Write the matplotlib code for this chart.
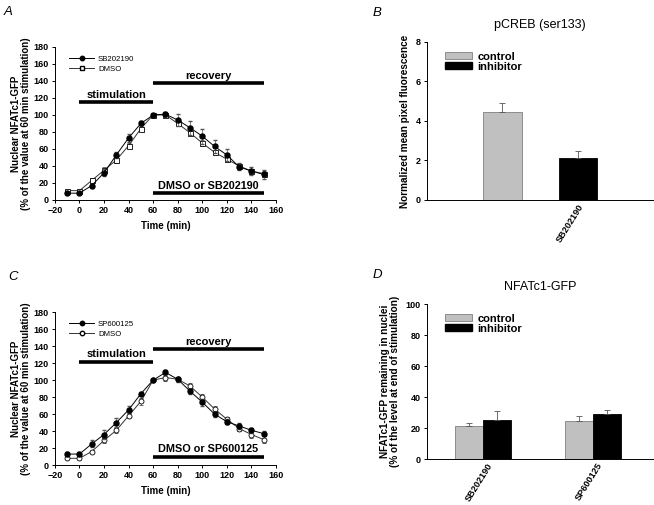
import matplotlib
matplotlib.use("Agg")
import matplotlib.pyplot as plt
from matplotlib.patches import Patch
from matplotlib.lines import Line2D

plt.rcParams['font.family'] = ['Liberation Sans', 'DejaVu Sans']

# time axis (min)
t = [-10, 0, 10, 20, 30, 40, 50, 60, 70, 80, 90, 100, 110, 120, 130, 140, 150]

# panel A
sb_mean = [8, 8, 17, 32, 53, 73, 90, 100, 101, 94, 85, 75, 63, 53, 39, 34, 30]
sb_err = [1, 1, 2, 4, 4, 5, 3, 0, 3, 7, 8, 9, 8, 7, 4, 5, 5]
dmso_a_mean = [11, 11, 23, 35, 47, 64, 84, 100, 100, 90, 79, 67, 56, 48, 40, 34, 31]
dmso_a_err = [1, 1, 3, 4, 3, 3, 2, 0, 2, 3, 3, 3, 2, 3, 3, 3, 3]

# panel C
sp_mean = [13, 13, 25, 36, 50, 65, 84, 100, 109, 101, 87, 74, 60, 51, 46, 41, 37]
sp_err = [2, 2, 4, 5, 5, 4, 2, 0, 3, 3, 3, 4, 3, 3, 3, 3, 3]
dmso_c_mean = [8, 8, 16, 29, 41, 58, 75, 100, 103, 101, 93, 80, 66, 54, 43, 36, 30]
dmso_c_err = [1, 1, 2, 3, 3, 3, 4, 0, 4, 3, 4, 4, 3, 3, 3, 4, 4]

# panel B
b_labels = ['SB202190']
b_control = [4.47]
b_control_err = [0.42]
b_inhib = [2.15]
b_inhib_err = [0.31]

# panel D
d_labels = ['SB202190', 'SP600125']
d_control = [21.2, 24.4]
d_control_err = [2.1, 3.2]
d_inhib = [25.0, 29.2]
d_inhib_err = [5.7, 2.5]

fig = plt.figure(figsize=(6.54, 5.05), dpi=100)

TICK = 6.5
LAB = 7.0


def style(ax):
    ax.spines['top'].set_visible(False)
    ax.spines['right'].set_visible(False)
    ax.spines['left'].set_linewidth(0.7)
    ax.spines['bottom'].set_linewidth(0.7)
    ax.tick_params(labelsize=TICK, width=0.7, length=2.5, pad=2)
    for lab in ax.get_xticklabels() + ax.get_yticklabels():
        lab.set_fontweight('bold')


def time_panel(rect, letter, letter_x, drug, open_marker, m1, e1, m2, e2, ystim, yrec, ydrug):
    ax = fig.add_axes(rect)
    ax.errorbar(t, m2, yerr=e2, color='#333333', lw=0.7, marker=open_marker, ms=3.6,
                mfc='white', mec='black', mew=0.6, capsize=1.5, elinewidth=0.5,
                ecolor='#555555', zorder=2)
    ax.errorbar(t, m1, yerr=e1, color='black', lw=0.7, marker='o', ms=3.6,
                mfc='black', mec='black', capsize=1.5, elinewidth=0.5,
                ecolor='#555555', zorder=3)
    ax.set_xlim(-20, 160)
    ax.set_ylim(0, 180)
    ax.set_xticks(range(-20, 161, 20))
    ax.set_yticks(range(0, 181, 20))
    ax.plot([0, 60], [ystim, ystim], color='black', lw=2.6, solid_capstyle='butt')
    ax.plot([60, 150], [yrec, yrec], color='black', lw=2.6, solid_capstyle='butt')
    ax.plot([60, 150], [ydrug, ydrug], color='black', lw=2.6, solid_capstyle='butt')
    ax.text(30, ystim + 3, 'stimulation', ha='center', va='bottom', fontsize=8, fontweight='bold')
    ax.text(105, yrec + 3, 'recovery', ha='center', va='bottom', fontsize=8, fontweight='bold')
    ax.text(105, ydrug + 3, 'DMSO or ' + drug, ha='center', va='bottom', fontsize=7.8,
            fontweight='bold')
    ax.set_xlabel('Time (min)', fontsize=LAB, fontweight='bold', labelpad=4)
    ax.set_ylabel('Nuclear NFATc1-GFP\n(% of the value at 60 min stimulation)',
                  fontsize=LAB, fontweight='bold', labelpad=2, linespacing=1.0)
    handles = [Line2D([], [], color='black', lw=0.7, marker='o', ms=3.2, mfc='black'),
               Line2D([], [], color='#333333', lw=0.7, marker=open_marker, ms=3.2,
                      mfc='white', mec='black')]
    ax.legend(handles, [drug, 'DMSO'], loc='upper left', bbox_to_anchor=(0.04, 0.98),
              frameon=False, fontsize=5.6, handlelength=3.2, handletextpad=0.5,
              labelspacing=0.3, borderaxespad=0.3)
    style(ax)
    fig.text(letter_x, rect[1] + rect[3] + 0.058, letter, fontsize=9.5,
             style='italic', ha='left', va='bottom')
    return ax


time_panel([0.084, 0.604, 0.338, 0.303], 'A', 0.005, 'SB202190', 's',
           sb_mean, sb_err, dmso_a_mean, dmso_a_err, 115, 137.5, 8)
time_panel([0.084, 0.079, 0.338, 0.303], 'C', 0.013, 'SP600125', 'o',
           sp_mean, sp_err, dmso_c_mean, dmso_c_err, 121.5, 136.5, 9.5)


def bar_panel(rect, letter, title, labels, ctrl, ctrl_e, inh, inh_e, ymax, ystep,
              xc, xi, width, xtick, ylabel):
    ax = fig.add_axes(rect)
    ax.bar(xc, ctrl, width, color='#c0c0c0', edgecolor='#808080', lw=0.6,
           yerr=[[0] * len(ctrl), ctrl_e], error_kw=dict(elinewidth=0.6, capsize=2,
                                                        ecolor='#555555', capthick=0.6))
    ax.bar(xi, inh, width, color='black', edgecolor='black', lw=0.6,
           yerr=[[0] * len(inh), inh_e], error_kw=dict(elinewidth=0.6, capsize=2,
                                                      ecolor='#555555', capthick=0.6))
    ax.set_xlim(0, 1)
    ax.set_ylim(0, ymax)
    ax.set_yticks([i * ystep for i in range(int(ymax / ystep) + 1)])
    ax.set_xticks(xtick)
    ax.set_xticklabels(labels, rotation=58, ha='right', rotation_mode='anchor')
    ax.set_ylabel(ylabel, fontsize=7.2, fontweight='bold', labelpad=4, linespacing=1.0)
    ax.set_title(title, fontsize=9, pad=10)
    handles = [Patch(facecolor='#c0c0c0', edgecolor='#808080', lw=0.6),
               Patch(facecolor='black', edgecolor='black')]
    ax.legend(handles, ['control', 'inhibitor'], loc='upper left',
              bbox_to_anchor=(0.05, 0.98), frameon=False,
              prop=dict(size=8, weight='bold'), handlelength=2.4, handleheight=0.6,
              handletextpad=0.5, labelspacing=0.0, borderaxespad=0.2)
    style(ax)
    ax.tick_params(axis='x', length=0, pad=1.5, labelsize=6.6)
    fig.text(rect[0] - 0.083, rect[1] + rect[3] + 0.045, letter, fontsize=9.5,
             style='italic', ha='left', va='bottom')
    return ax


bar_panel([0.653, 0.604, 0.345, 0.313], 'B', 'pCREB (ser133)', b_labels,
          b_control, b_control_err, b_inhib, b_inhib_err, 8, 2,
          [0.334], [0.668], 0.17, [0.668], 'Normalized mean pixel fluorescence')
bar_panel([0.653, 0.091, 0.345, 0.307], 'D', 'NFATc1-GFP', d_labels,
          d_control, d_control_err, d_inhib, d_inhib_err, 100, 20,
          [0.186, 0.675], [0.310, 0.797], 0.123, [0.265, 0.752],
          'NFATc1-GFP remaining in nuclei\n(% of the level at end of stimulation)')

fig.savefig('out.png', dpi=100)
